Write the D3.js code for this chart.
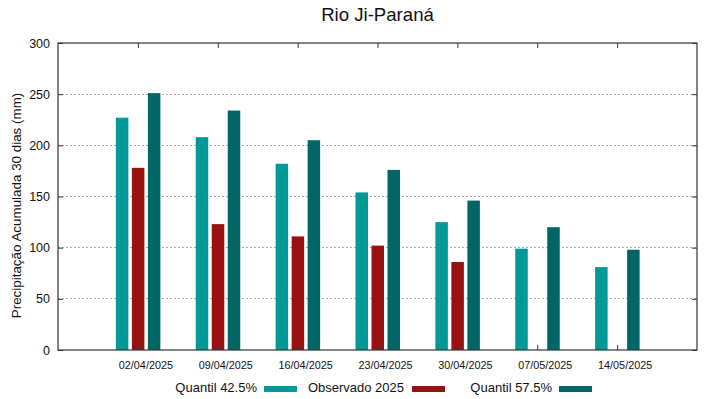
<!DOCTYPE html>
<html>
<head>
<meta charset="utf-8">
<script src="https://cdn.jsdelivr.net/npm/d3@7"></script>
<style>
  html, body { margin: 0; padding: 0; background: #fff; }
  svg { display: block; font-family: "Liberation Sans", Arial, sans-serif; }
</style>
</head>
<body>
<svg id="chart" width="719" height="399"></svg>
<script>
const categories = ["02/04/2025", "09/04/2025", "16/04/2025", "23/04/2025", "30/04/2025", "07/05/2025", "14/05/2025"];
const seriesNames = ["Quantil 42.5%", "Observado 2025", "Quantil 57.5%"];
const q425 = [227, 208, 182, 154, 125, 99, 81];
const obs2025 = [178, 123, 111, 102, 86, null, null];
const q575 = [251, 234, 205, 176, 146, 120, 98];
const seriesColors = ["#009999", "#991111", "#006666"];
const yTicks = [0, 50, 100, 150, 200, 250, 300];
const title = "Rio Ji-Paraná";
const yLabel = "Precipitação Acumulada 30 dias (mm)";

const seriesValues = [q425, obs2025, q575];

const svg = d3.select("#chart");
const L = 58, R = 697, T = 43, B = 350;

const x = d3.scaleLinear().domain([0, categories.length + 1]).range([L, R]);
const y = d3.scaleLinear().domain([0, 300]).range([B, T]);
const inner = d3.scaleBand().domain(seriesNames).range([-22, 22.5]).paddingInner(0.21875).paddingOuter(0);

// grid
svg.append("g").selectAll("line").data(yTicks.filter(d => d > 0 && d < 300)).join("line")
  .attr("x1", L).attr("x2", R)
  .attr("y1", d => y(d)).attr("y2", d => y(d))
  .attr("stroke", "#aaaaaa").attr("stroke-width", 1)
  .attr("stroke-dasharray", "1.5,2.5").attr("shape-rendering", "crispEdges");

// bars
seriesNames.forEach((s, si) => {
  svg.append("g").selectAll("rect")
    .data(categories.map((c, i) => ({ i, v: seriesValues[si][i] })).filter(d => d.v != null))
    .join("rect")
    .attr("x", d => x(d.i + 1) + inner(s))
    .attr("width", inner.bandwidth())
    .attr("y", d => y(d.v))
    .attr("height", d => B - y(d.v))
    .attr("fill", seriesColors[si]);
});

// axes (gnuplot-style inward ticks)
const yAxisL = d3.axisLeft(y).tickValues(yTicks).tickSizeInner(-5).tickSizeOuter(0).tickPadding(8);
const yAxisR = d3.axisRight(y).tickValues(yTicks).tickSizeInner(-5).tickSizeOuter(0).tickFormat("");
const xAxisB = d3.axisBottom(x).tickValues(categories.map((c, i) => i + 1))
  .tickFormat((d) => categories[d - 1]).tickSizeInner(-5).tickSizeOuter(0).tickPadding(11);
const xAxisT = d3.axisTop(x).tickValues(categories.map((c, i) => i + 1))
  .tickFormat("").tickSizeInner(-5).tickSizeOuter(0);

const gyl = svg.append("g").attr("transform", `translate(${L},0)`).call(yAxisL);
gyl.selectAll("text").attr("font-size", 12.5).attr("fill", "#111").attr("font-family", "Liberation Sans, Arial, sans-serif");
const gyr = svg.append("g").attr("transform", `translate(${R},0)`).call(yAxisR);
const gxb = svg.append("g").attr("transform", `translate(0,${B})`).call(xAxisB);
gxb.selectAll("text").attr("font-size", 10.8).attr("fill", "#111").attr("dx", 7.5).attr("font-family", "Liberation Sans, Arial, sans-serif");
const gxt = svg.append("g").attr("transform", `translate(0,${T})`).call(xAxisT);
[gyl, gyr, gxb, gxt].forEach(g => {
  g.select(".domain").remove();
  g.selectAll(".tick line").attr("stroke", "#333");
});

// frame
svg.append("rect").attr("x", L).attr("y", T).attr("width", R - L).attr("height", B - T)
  .attr("fill", "none").attr("stroke", "#333").attr("stroke-width", 1.2);

// title
svg.append("text").attr("x", (L + R) / 2).attr("y", 21).attr("text-anchor", "middle")
  .attr("font-size", 18.6).attr("fill", "#111").text(title);

// y label
svg.append("text").attr("transform", `translate(21,${(91 + 320) / 2}) rotate(-90)`)
  .attr("text-anchor", "middle").attr("font-size", 13.4).attr("fill", "#111").text(yLabel);

// legend
const legendItems = [
  { name: seriesNames[0], color: seriesColors[0], textEnd: 257, sw: 264 },
  { name: seriesNames[1], color: seriesColors[1], textEnd: 404, sw: 412 },
  { name: seriesNames[2], color: seriesColors[2], textEnd: 552, sw: 559 }
];
const lg = svg.append("g");
legendItems.forEach(it => {
  lg.append("text").attr("x", it.textEnd).attr("y", 392).attr("text-anchor", "end")
    .attr("font-size", 13).attr("fill", "#111").text(it.name);
  lg.append("rect").attr("x", it.sw).attr("y", 386).attr("width", 33).attr("height", 6).attr("fill", it.color);
});
</script>
</body>
</html>
